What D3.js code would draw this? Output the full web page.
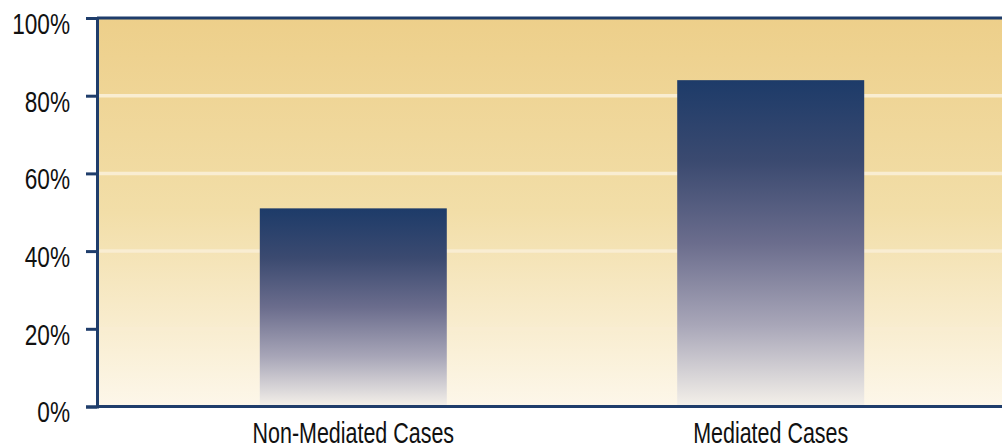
<!DOCTYPE html>
<html><head><meta charset="utf-8">
<script src="https://cdn.jsdelivr.net/npm/d3@7/dist/d3.min.js"></script>
<style>html,body{margin:0;padding:0;background:#fff;overflow:hidden}svg{display:block}</style>
</head><body>
<svg id="c" width="1002" height="447"></svg>
<script>
const categories = ["Non-Mediated Cases", "Mediated Cases"];
const values = [0.51, 0.84];
const yTicks = [0, 0.2, 0.4, 0.6, 0.8, 1.0];
const yTickLabels = ["0%", "20%", "40%", "60%", "80%", "100%"];

(function () {
const svg = d3.select("#c");
const W = 1002;
const mLeft = 97, mTop = 18, mBottom = 406.5;
const font = "'Liberation Sans',Arial,sans-serif";

const y = d3.scaleLinear().domain([0, 1]).range([mBottom, mTop]);
const x = d3.scaleBand().domain(categories).range([mLeft, 1027]).paddingInner(0.552).paddingOuter(0.39);

const defs = svg.append("defs");
const bg = defs.append("linearGradient").attr("id", "bg").attr("x1", 0).attr("x2", 0).attr("y1", 0).attr("y2", 1);
bg.append("stop").attr("offset", "0%").attr("stop-color", "#edcf8a");
bg.append("stop").attr("offset", "50%").attr("stop-color", "#f2dea8");
bg.append("stop").attr("offset", "100%").attr("stop-color", "#fdf7ea");

const bar = defs.append("linearGradient").attr("id", "bar").attr("x1", 0).attr("x2", 0).attr("y1", 0).attr("y2", 1);
[["0%", "#1d3b69"], ["25%", "#3b4a70"], ["50%", "#6b6d8d"], ["75%", "#a8a6b8"], ["92%", "#dcd9da"], ["100%", "#f5f1ea"]]
  .forEach(s => bar.append("stop").attr("offset", s[0]).attr("stop-color", s[1]));

svg.append("rect").attr("x", mLeft).attr("y", y(1)).attr("width", W - mLeft).attr("height", y(0) - y(1)).attr("fill", "url(#bg)");

svg.append("g").selectAll("line").data(yTicks.filter(d => d > 0 && d < 1)).join("line")
  .attr("x1", mLeft).attr("x2", W).attr("y1", d => y(d)).attr("y2", d => y(d))
  .attr("stroke", "#f9edd2").attr("stroke-width", 3.5);

svg.append("g").selectAll("rect").data(values).join("rect")
  .attr("x", (d, i) => x(categories[i])).attr("width", x.bandwidth())
  .attr("y", d => y(d)).attr("height", d => y(0) - y(d))
  .attr("fill", "url(#bar)");

function condense(sel, k) {
  sel.each(function () {
    const w = this.getComputedTextLength();
    d3.select(this).attr("textLength", w * k).attr("lengthAdjust", "spacingAndGlyphs");
  });
}

const yAxis = d3.axisLeft(y).tickValues(yTicks).tickFormat((d, i) => yTickLabels[i]).tickSize(11).tickPadding(16);
const ya = svg.append("g").attr("transform", `translate(${mLeft},0)`).call(yAxis);
ya.select(".domain").attr("stroke", "#1f3d6b").attr("stroke-width", 3);
ya.selectAll(".tick line").attr("stroke", "#1f3d6b").attr("stroke-width", 3);
ya.selectAll(".tick text").attr("font-family", font).attr("font-size", 29).attr("fill", "#111")
  .attr("x", -27).attr("dy", 15.4).call(condense, 0.78);

svg.append("line").attr("x1", mLeft).attr("x2", W).attr("y1", y(1)).attr("y2", y(1)).attr("stroke", "#1f3d6b").attr("stroke-width", 3);
const xAxis = d3.axisBottom(x).tickSize(0).tickPadding(14);
const xa = svg.append("g").attr("transform", `translate(0,${y(0)})`).call(xAxis);
xa.select(".domain").attr("stroke", "#1f3d6b").attr("stroke-width", 3).attr("d", `M${mLeft},0H${W}`);
xa.selectAll(".tick text").attr("font-family", font).attr("font-size", 29).attr("fill", "#111")
  .attr("y", 36.5).attr("dy", 0).call(condense, 0.74);
})();
</script>
</body></html>
